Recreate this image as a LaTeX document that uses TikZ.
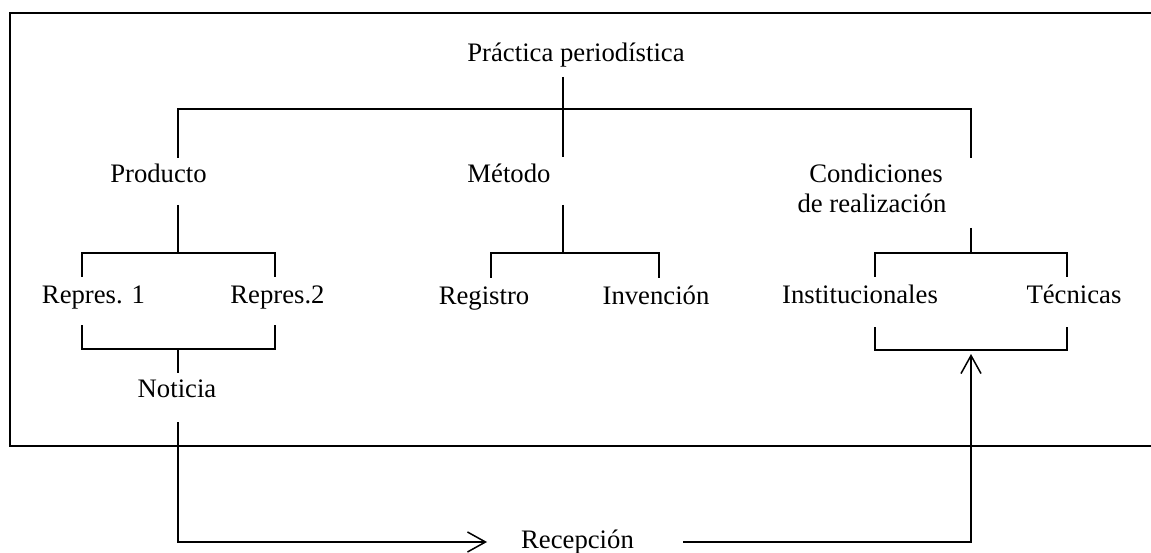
\documentclass[tikz,border=0pt]{standalone}
\usepackage{fontspec}
\setmainfont{Liberation Serif}
\usetikzlibrary{arrows.meta}
\newcommand\diafont{\fontsize{26.7}{30}\selectfont}
\begin{document}
\begin{tikzpicture}[x=1pt,y=-1pt,line width=1.5pt,
  lbl/.style={inner sep=0pt,anchor=base,font=\diafont},
  conn/.style={line width=1.5pt},
  arr/.style={conn,-{Straight Barb[length=18pt,width=20pt]}}]
\useasboundingbox (0,0) rectangle (1151,553);
% open frame
\draw[line width=1.6pt] (1151,13) -- (10,13) -- (10,446) -- (1151,446);
% labels
\node[lbl] (prac) at (576,62) {Práctica periodística};
\node[lbl] (prod) at (158.5,183) {Producto};
\node[lbl] (met) at (509,183) {Método};
\node[lbl] (cond) at (876,183) {Condiciones};
\node[lbl] (condb) at (872,213) {de realización};
\node[lbl] (rep1) at (93.5,304) {Repres. 1};
\node[lbl] (rep2) at (277.5,304) {Repres.2};
\node[lbl] (reg) at (484,305) {Registro};
\node[lbl] (inv) at (656,305) {Invención};
\node[lbl] (inst) at (860,304) {Institucionales};
\node[lbl] (tec) at (1074,304) {Técnicas};
\node[lbl] (not) at (177,397) {Noticia};
\node[lbl] (rec) at (577.5,548) {Recepción};
% coordinates
\coordinate (pA) at (563,77);
\coordinate (pB) at (563,157);
\coordinate (hL) at (178,109);
\coordinate (hR) at (971,109);
\coordinate (prodT) at (178,158);
\coordinate (condT) at (971,158);
\coordinate (prodB) at (178,205);
\coordinate (prodJ) at (178,253);
\coordinate (r1T) at (82,277);
\coordinate (r2T) at (275,277);
\coordinate (r1B) at (82,325);
\coordinate (r2B) at (275,325);
\coordinate (nJ) at (178,349);
\coordinate (notT) at (178,373);
\coordinate (notB) at (178,422);
\coordinate (recL) at (487,542);
\coordinate (metB) at (563,205);
\coordinate (metJ) at (563,253);
\coordinate (regT) at (491,278);
\coordinate (invT) at (659,278);
\coordinate (condB) at (971,228);
\coordinate (condJ) at (971,253);
\coordinate (instT) at (875,277);
\coordinate (tecT) at (1067,277);
\coordinate (instB) at (875,327);
\coordinate (tecB) at (1067,327);
\coordinate (brJ) at (971,350);
\coordinate (arrTip) at (971,354);
\coordinate (recR) at (683,542);
% top level
\draw[conn] (pA) -- (pB);
\draw[conn] (prodT) -- (hL) -- (hR) -- (condT);
% Producto branch
\draw[conn] (prodB) -- (prodJ);
\draw[conn] (r1T) |- (prodJ) -| (r2T);
\draw[conn] (r1B) |- (nJ) -| (r2B);
\draw[conn] (nJ) -- (notT);
\draw[arr] (notB) |- (recL);
% Método branch
\draw[conn] (metB) -- (metJ);
\draw[conn] (regT) |- (metJ) -| (invT);
% Condiciones branch
\draw[conn] (condB) -- (condJ);
\draw[conn] (instT) |- (condJ) -| (tecT);
\draw[conn] (instB) |- (brJ) -| (tecB);
\draw[arr] (recR) -| (arrTip);
\end{tikzpicture}
\end{document}
